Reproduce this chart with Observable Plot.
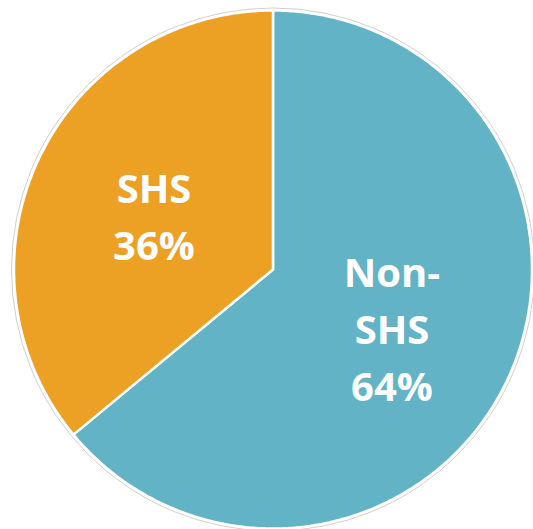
<!DOCTYPE html>
<html>
<head>
<meta charset="utf-8">
<script src="https://cdn.jsdelivr.net/npm/d3@7"></script>
<script src="https://cdn.jsdelivr.net/npm/@observablehq/plot@0.6"></script>
<style>
  html, body { margin: 0; padding: 0; background: #fff; }
</style>
</head>
<body>
<div id="chart"></div>
<script>
const categories = ["Non-SHS", "SHS"];
const values = [64, 36];
const labels = ["Non-\nSHS\n64%", "SHS\n36%"];
const colors = ["#62B3C6", "#EDA124"];

const W = 533, H = 529;
const cx = 272.5, cy = 269, R = 259, labelR = 131.5;

const arcs = d3.pie().sort(null)(values);
const polyPts = [];
arcs.forEach((a, i) => {
  const n = Math.max(2, Math.ceil((a.endAngle - a.startAngle) / 0.01));
  polyPts.push({cat: categories[i], x: cx, y: cy});
  for (let k = 0; k <= n; k++) {
    const t = a.startAngle + (a.endAngle - a.startAngle) * k / n;
    polyPts.push({cat: categories[i], x: cx + R * Math.sin(t), y: cy - R * Math.cos(t)});
  }
  polyPts.push({cat: categories[i], x: cx, y: cy});
});
const labelPts = arcs.map((a, i) => {
  const m = (a.startAngle + a.endAngle) / 2;
  return {cat: categories[i], text: labels[i], x: cx + labelR * Math.sin(m), y: cy - labelR * Math.cos(m)};
});

const chart = Plot.plot({
  width: W,
  height: H,
  margin: 0,
  x: {type: "identity", axis: null},
  y: {type: "identity", axis: null},
  color: {domain: categories, range: colors},
  marks: [
    Plot.dot([{x: cx, y: cy}], {x: "x", y: "y", r: R + 2.5, fill: "none", stroke: "#d0d0d0", strokeWidth: 1}),
    Plot.line(polyPts, {x: "x", y: "y", z: "cat", fill: "cat", stroke: "white", strokeWidth: 2.5, strokeLinejoin: "miter"}),
    Plot.text(labelPts, {x: "x", y: "y", text: "text", fill: "white", fontSize: 40, fontWeight: "bold", fontFamily: "Open Sans", lineHeight: 1.43, lineAnchor: "middle", textAnchor: "middle"})
  ]
});
document.getElementById("chart").appendChild(chart);
</script>
</body>
</html>
